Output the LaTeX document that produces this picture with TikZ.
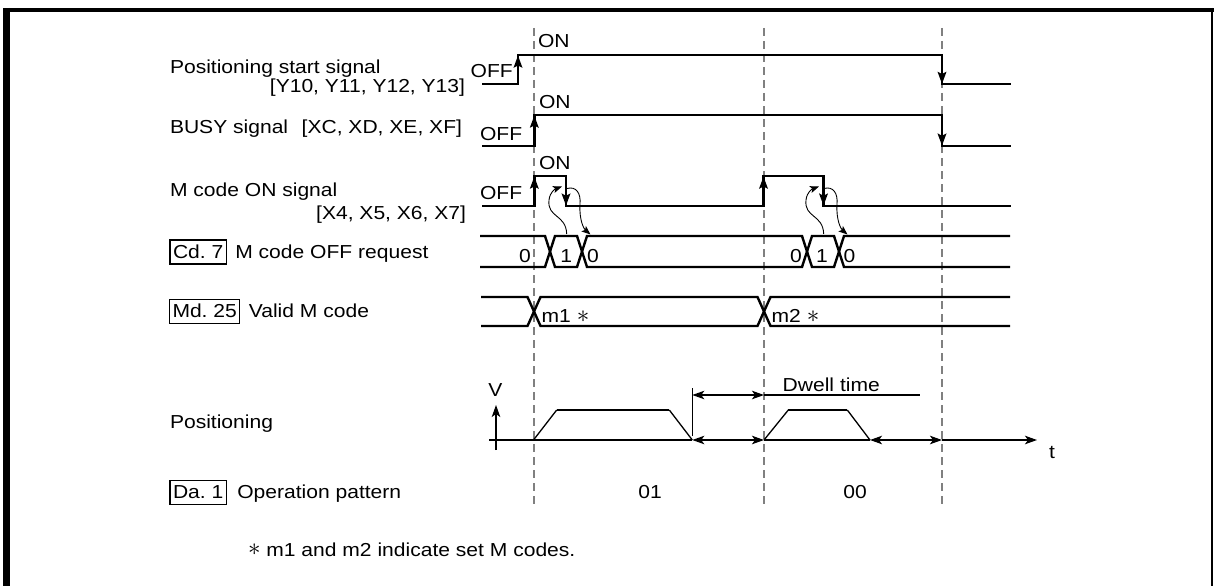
\documentclass[tikz,border=0pt]{standalone}
\usepackage{fontspec}
\setmainfont{Liberation Sans}[FakeStretch=1.12]
\usetikzlibrary{arrows.meta}
\definecolor{dashgray}{RGB}{128,128,128}
\newcommand\dgfont{\fontsize{18.8}{22}\selectfont}
\newcommand\astx{\raisebox{0.5pt}{\scalebox{1.45}{$\ast$}}}
\begin{document}
\begin{tikzpicture}[x=1pt,y=-1pt,
  sig/.style={line width=2.4pt, line join=miter},
  edgearr/.style={line width=2.4pt, -{Stealth[length=12pt,width=8.5pt,inset=2pt]}},
  gridln/.style={draw=dashgray, line width=1.8pt, dash pattern=on 8pt off 5pt},
  thinln/.style={line width=1.3pt},
  dimarr/.style={line width=1.3pt, {Stealth[length=12pt,width=8.5pt,inset=3pt]}-{Stealth[length=12pt,width=8.5pt,inset=3pt]}},
  axarr/.style={line width=1.3pt, -{Stealth[length=12pt,width=8.5pt,inset=3pt]}},
  curvy/.style={line width=0.9pt, -{Stealth[length=9pt,width=7pt,inset=2pt]}},
  lbl/.style={inner sep=0pt, outer sep=0pt, font=\dgfont},
  regbox/.style={draw, line width=1.2pt, inner xsep=3pt, inner ysep=0.5pt, text height=17.5pt, text depth=5.5pt, outer sep=0pt, font=\dgfont}]
\useasboundingbox (0,0) rectangle (1216,586);
% frame (open at the bottom)
\draw[line width=6.7pt] (6.7,8) -- (6.7,586);
\draw[line width=4pt] (3.35,10) -- (1213.5,10);
\draw[line width=2.5pt] (1212,8) -- (1212,586);

% dashed time markers
\draw[gridln] (534.3,28) -- (534.3,506);
\draw[gridln] (764.3,28) -- (764.3,506);
\draw[gridln] (942.3,28) -- (942.3,506);

% left labels
\node[lbl, anchor=base west] (lstart) at (170,74) {Positioning start signal};
\node[lbl, anchor=base east] (lstartb) at (465,92.5) {[Y10, Y11, Y12, Y13]};
\node[lbl, anchor=base west] (lbusy) at (170,133) {BUSY signal};
\node[lbl, anchor=base east] (lbusyb) at (462,133) {[XC, XD, XE, XF]};
\node[lbl, anchor=base west] (lmon) at (170,196.5) {M code ON signal};
\node[lbl, anchor=base east] (lmonb) at (466,219.5) {[X4, X5, X6, X7]};
\node[regbox, anchor=base west] (cd7) at (170,258) {Cd.\ 7};
\node[lbl, anchor=base west] (lcd7) at ([xshift=9pt]cd7.base east) {M code OFF request};
\node[regbox, anchor=base west] (md25) at (169.5,317.3) {Md.\ 25};
\node[lbl, anchor=base west] (lmd25) at ([xshift=9pt]md25.base east) {Valid M code};
\node[lbl, anchor=base west] (lpos) at (170,428) {Positioning};
\node[regbox, anchor=base west] (da1) at (170,498.5) {Da.\ 1};
\node[lbl, anchor=base west] (lda1) at ([xshift=11pt]da1.base east) {Operation pattern};

% ON / OFF labels
\node[lbl, anchor=base west] (on1) at (538,47.3) {ON};
\node[lbl, anchor=base west] (off1) at (470.7,77.7) {OFF};
\node[lbl, anchor=base west] (on2) at (539,108.3) {ON};
\node[lbl, anchor=base west] (off2) at (480,140) {OFF};
\node[lbl, anchor=base west] (on3) at (539,169) {ON};
\node[lbl, anchor=base west] (off3) at (480,199) {OFF};

% Positioning start signal
\draw[sig] (482,84.3) -- (518,84.3) -- (518,55) -- (942,55) -- (942,84.3) -- (1010.5,84.3);
\draw[edgearr] (518,84.3) -- (518,55.5);
\draw[edgearr] (942,55) -- (942,84);
% BUSY signal
\draw[sig] (482,146) -- (534.3,146) -- (534.3,115) -- (942,115) -- (942,146) -- (1010.5,146);
\draw[edgearr] (534.3,146) -- (534.3,115.5);
\draw[edgearr] (942,115) -- (942,145.7);
% M code ON signal
\draw[sig] (482,206) -- (534.3,206) -- (534.3,176) -- (566,176) -- (566,206) -- (763.5,206) -- (763.5,176) -- (823.5,176) -- (823.5,206) -- (1010.5,206);
\draw[edgearr] (534.3,206) -- (534.3,176.5);
\draw[edgearr] (566,176) -- (566,205.7);
\draw[edgearr] (763.5,206) -- (763.5,176.5);
\draw[edgearr] (823.5,176) -- (823.5,205.7);

% Cd.7 bus
\draw[sig] (480,236) -- (545,236) -- (555,267) -- (577,267) -- (587,236) -- (802,236) -- (812,267) -- (834,267) -- (844,236) -- (1010,236);
\draw[sig] (480,267) -- (545,267) -- (555,236) -- (577,236) -- (587,267) -- (802,267) -- (812,236) -- (834,236) -- (844,267) -- (1010,267);
\node[lbl, anchor=base] (c0a) at (525,262) {0};
\node[lbl, anchor=base] (c1a) at (566.3,262) {1};
\node[lbl, anchor=base] (c0b) at (593,262) {0};
\node[lbl, anchor=base] (c0c) at (796,262) {0};
\node[lbl, anchor=base] (c1b) at (822,262) {1};
\node[lbl, anchor=base] (c0d) at (849.5,262) {0};

% handshake curves
\foreach \dx in {0,257}{
  \begin{scope}[xshift=\dx pt]
    \draw[curvy] (566.7,234) .. controls (566,214) and (547,218) .. (549,200) .. controls (550,192) and (555,189) .. (562,186.5);
    \draw[curvy] (567,188.5) .. controls (576,186) and (581,193) .. (580,204) .. controls (579,220) and (584,229) .. (590.5,234.5);
  \end{scope}
}

% Md.25 bus
\draw[sig] (481,297) -- (527.5,297) -- (540.5,326) -- (757.5,326) -- (770.5,297) -- (1010,297);
\draw[sig] (481,326) -- (527.5,326) -- (540.5,297) -- (757.5,297) -- (770.5,326) -- (1010,326);
\node[lbl, anchor=base west] (m1) at (541.7,322.5) {m1 \astx};
\node[lbl, anchor=base west] (m2) at (771.7,322.5) {m2 \astx};

% Positioning graph
\draw[axarr] (496,450) -- (496,405);
\node[lbl, anchor=base] (vlab) at (495.5,396.7) {V};
\draw[thinln] (489,440) -- (692.3,440);
\draw[thinln] (764,440) -- (870,440);
\draw[axarr] (942,440) -- (1037,440);
\node[lbl, anchor=base] (tlab) at (1052,458) {t};
\draw[thinln] (533.5,440) -- (556.7,410);
\draw[sig] (556.7,410) -- (669.3,410);
\draw[thinln] (669.3,410) -- (692.3,440);
\draw[thinln] (764,440) -- (788.3,410);
\draw[sig] (788.3,410) -- (847.3,410);
\draw[thinln] (847.3,410) -- (870,440);
\draw[thinln] (692.3,388) -- (692.3,436);
\draw[dimarr] (692.3,395) -- (764,395);
\draw[thinln] (764,395) -- (920,395);
\node[lbl, anchor=base west] (dwell) at (782.7,391.7) {Dwell time};
\draw[dimarr] (692.3,440) -- (764,440);
\draw[dimarr] (870,440) -- (942,440);

% operation pattern values
\node[lbl, anchor=base] (p01) at (650,498.5) {01};
\node[lbl, anchor=base] (p00) at (855,498.5) {00};

% footnote
\node[lbl, anchor=base west] (note) at (248,556) {\astx{} m1 and m2 indicate set M codes.};
\end{tikzpicture}
\end{document}
